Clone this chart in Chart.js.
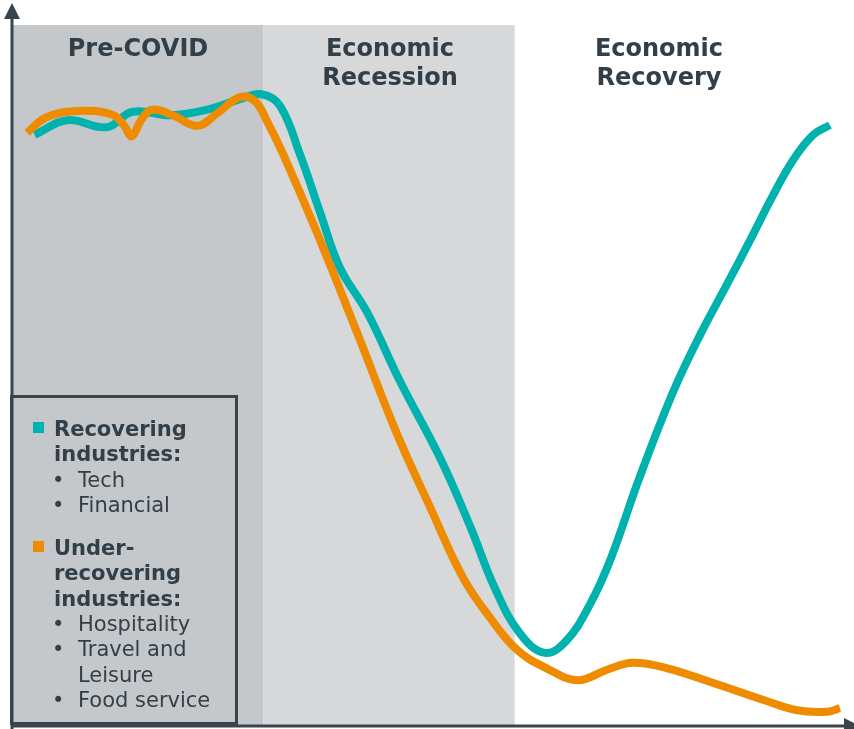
<!DOCTYPE html>
<html>
<head>
<meta charset="utf-8">
<title>Recovering vs under-recovering industries</title>
<script src="https://cdn.jsdelivr.net/npm/chart.js@4.4.1/dist/chart.umd.min.js"></script>
<style>
  body { margin: 0; background: #fff; }
  #wrap { position: relative; width: 854px; height: 729px; font-family: "DejaVu Sans", Verdana, sans-serif; color: #333f48; }
  #chart { position: absolute; left: 0; top: 0; }
  .hdr { position: absolute; width: 260px; text-align: center; font-weight: bold; font-size: 24px; line-height: 29px; }
  #legend { position: absolute; left: 10px; top: 395px; width: 222px; height: 324px; border: 3px solid #3b444d; }
  .grp { position: absolute; left: 0; font-size: 21px; line-height: 25.4px; white-space: nowrap; }
  .mark { position: absolute; width: 11px; height: 11px; }
  .b { font-weight: bold; }
</style>
</head>
<body>
<div id="wrap">
  <canvas id="chart" width="854" height="729"></canvas>
</div>

<script>
// phases on the x axis (0..100 = whole timeline)
var phaseBounds = [0, 30, 60, 100];
var phaseLabels = [['Pre-COVID'], ['Economic', 'Recession'], ['Economic', 'Recovery']];

// recovering industries (teal)
var recoveringX = [2.7, 6.6, 11.3, 14.4, 18.9, 23.3, 27.2, 29.8, 32.0, 34.4, 36.8, 39.1, 42.4, 46.3, 51.1, 54.7, 57.6, 60.6, 63.6, 66.2, 69.0, 71.4, 74.9, 78.9, 82.1, 85.3, 88.1, 90.7, 93.2, 95.6, 97.6];
var recoveringY = [84.3, 86.4, 85.4, 87.6, 87.1, 87.9, 89.4, 90.1, 88.4, 81.4, 73.1, 65.4, 58.9, 49.1, 38.1, 28.3, 19.6, 13.1, 10.3, 12.1, 17.3, 23.6, 35.4, 47.6, 55.7, 62.9, 69.3, 75.4, 80.7, 84.3, 85.7];

// under-recovering industries (orange)
var underX = [1.8, 3.9, 6.6, 9.9, 12.3, 13.4, 14.3, 15.4, 16.7, 19.2, 22.1, 24.5, 27.2, 29.0, 30.5, 32.3, 36.4, 41.2, 45.9, 49.9, 53.8, 57.0, 60.3, 63.8, 67.5, 71.0, 74.1, 78.2, 83.7, 89.6, 93.7, 97.3, 98.8];
var underY = [84.6, 86.7, 87.6, 87.7, 87.0, 85.6, 84.1, 86.4, 87.9, 87.1, 85.6, 87.4, 89.7, 89.1, 86.1, 81.7, 70.3, 56.0, 41.7, 31.1, 21.1, 15.4, 10.7, 8.1, 6.4, 7.9, 8.9, 8.1, 6.0, 3.6, 2.1, 1.9, 2.4];

// legend text
var legendTitles = [['Recovering', 'industries:'], ['Under-', 'recovering', 'industries:']];
var legendItems = [[['Tech'], ['Financial']], [['Hospitality'], ['Travel and', 'Leisure'], ['Food service']]];

var TEAL = '#00b2ad';
var ORANGE = '#ee8b00';
var AXIS = '#3b444d';

function toPoints(xs, ys) {
  var pts = [];
  for (var i = 0; i < xs.length; i++) {
    pts.push({ x: xs[i], y: ys[i] });
  }
  return pts;
}

// shaded phases under the lines, axes with arrows on top
var phasePlugin = {
  id: 'phases',
  beforeDatasetsDraw: function(chart) {
    var ctx = chart.ctx;
    var area = chart.chartArea;
    var x = chart.scales.x;
    var fills = ['#c5c8cb', '#d7d8da', '#ffffff'];
    ctx.save();
    for (var i = 0; i < phaseBounds.length - 1; i++) {
      var x0 = x.getPixelForValue(phaseBounds[i]);
      var x1 = x.getPixelForValue(phaseBounds[i + 1]);
      ctx.fillStyle = fills[i];
      ctx.fillRect(x0, area.top, x1 - x0, area.bottom - area.top);
    }
    ctx.restore();
  },
  afterDraw: function(chart) {
    var ctx = chart.ctx;
    var area = chart.chartArea;
    var ox = area.left;
    var oy = area.bottom + 1;
    ctx.save();
    ctx.strokeStyle = AXIS;
    ctx.fillStyle = AXIS;
    ctx.lineWidth = 3;
    ctx.beginPath();
    ctx.moveTo(ox, chart.height);
    ctx.lineTo(ox, 15);
    ctx.moveTo(ox, oy);
    ctx.lineTo(chart.width - 8, oy);
    ctx.stroke();
    // arrow heads
    ctx.beginPath();
    ctx.moveTo(ox, 3);
    ctx.lineTo(ox - 8, 19);
    ctx.lineTo(ox + 8, 19);
    ctx.closePath();
    ctx.fill();
    ctx.beginPath();
    ctx.moveTo(chart.width + 6, oy);
    ctx.lineTo(chart.width - 10, oy - 8);
    ctx.lineTo(chart.width - 10, oy + 8);
    ctx.closePath();
    ctx.fill();
    ctx.restore();
  }
};

var ctx = document.getElementById('chart');
var chart = new Chart(ctx, {
  type: 'line',
  data: {
    datasets: [{
      label: 'Recovering industries',
      data: toPoints(recoveringX, recoveringY),
      borderColor: TEAL,
      order: 2
    }, {
      label: 'Under-recovering industries',
      data: toPoints(underX, underY),
      borderColor: ORANGE,
      order: 1
    }]
  },
  options: {
    responsive: false,
    animation: false,
    layout: { padding: { left: 12, right: 4, top: 25, bottom: 4 } },
    elements: {
      point: { radius: 0 },
      line: { borderWidth: 8, tension: 0.4, fill: false }
    },
    scales: {
      x: { type: 'linear', min: 0, max: 100, display: false },
      y: { min: 0, max: 100, display: false }
    },
    plugins: {
      legend: { display: false },
      tooltip: { enabled: false }
    }
  },
  plugins: [phasePlugin]
});

// phase headings
var wrap = document.getElementById('wrap');
var hdrCenters = [138, 390, 659];
for (var i = 0; i < phaseLabels.length; i++) {
  var h = document.createElement('div');
  h.className = 'hdr';
  h.style.left = (hdrCenters[i] - 130) + 'px';
  h.style.top = '34px';
  h.innerHTML = phaseLabels[i].join('<br>');
  wrap.appendChild(h);
}

// legend box
var legend = document.createElement('div');
legend.id = 'legend';
wrap.appendChild(legend);
var groupColors = [TEAL, ORANGE];
var groupTops = [416.7, 535.7];
for (var g = 0; g < legendTitles.length; g++) {
  var gTop = groupTops[g];
  var mark = document.createElement('div');
  mark.className = 'mark';
  mark.style.background = groupColors[g];
  mark.style.left = '33px';
  mark.style.top = (gTop + 5.5) + 'px';
  wrap.appendChild(mark);

  var row = 0;
  legendTitles[g].forEach(function(t) {
    var d = document.createElement('div');
    d.className = 'grp b';
    d.style.left = '54px';
    d.style.top = (gTop + row * 25.4) + 'px';
    d.textContent = t;
    wrap.appendChild(d);
    row++;
  });
  legendItems[g].forEach(function(item) {
    item.forEach(function(t, k) {
      if (k === 0) {
        var bullet = document.createElement('div');
        bullet.className = 'grp';
        bullet.style.left = '52px';
        bullet.style.top = (gTop + row * 25.4) + 'px';
        bullet.textContent = '\u2022';
        wrap.appendChild(bullet);
      }
      var d = document.createElement('div');
      d.className = 'grp';
      d.style.left = '78px';
      d.style.top = (gTop + row * 25.4) + 'px';
      d.textContent = t;
      wrap.appendChild(d);
      row++;
    });
  });
}
</script>
</body>
</html>
